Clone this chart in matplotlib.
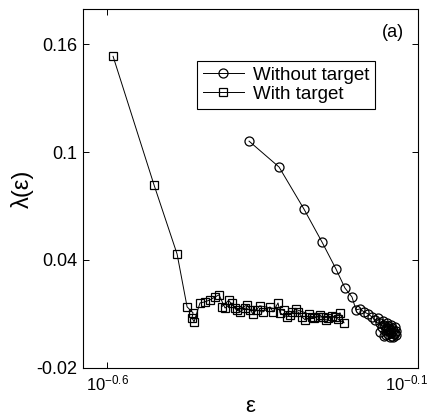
import matplotlib
matplotlib.use("Agg")
import matplotlib.pyplot as plt
import matplotlib.transforms as mtrans

plt.rcParams["font.family"] = ["Liberation Sans", "DejaVu Sans"]
plt.rcParams["mathtext.fontset"] = "custom"
plt.rcParams["mathtext.rm"] = "Liberation Sans"
plt.rcParams["mathtext.it"] = "Liberation Sans"

# ── data ────────────────────────────────────────────────────────────────────
eps_without = [0.4249, 0.4748, 0.5207, 0.5566, 0.5862, 0.6060, 0.6220, 0.6313,
               0.6408, 0.6503, 0.6600, 0.6699, 0.6774, 0.6850, 0.6900, 0.6977,
               0.7029, 0.7081, 0.7134, 0.7187, 0.7240, 0.7267, 0.7321, 0.7294,
               0.7214, 0.7107, 0.7003, 0.6900, 0.7055, 0.7160, 0.7321, 0.7250,
               0.7180, 0.7120, 0.7050, 0.6950, 0.7000, 0.7100, 0.7200, 0.7290]
lam_without = [0.1061, 0.0917, 0.0683, 0.0500, 0.0350, 0.0244, 0.0194, 0.0122,
               0.0128, 0.0111, 0.0100, 0.0083, 0.0067, 0.0078, 0.0050, 0.0061,
               0.0033, 0.0050, 0.0022, 0.0039, 0.0011, -0.0011, 0.0006, 0.0028,
               -0.0022, -0.0011, -0.0022, 0.0000, 0.0011, -0.0028, -0.0017, -0.0030,
               -0.0005, 0.0015, -0.0015, 0.0025, 0.0040, 0.0030, 0.0020, -0.0005]

eps_with = [0.2568, 0.2989, 0.3255, 0.3378, 0.3453, 0.3440, 0.3466, 0.3543,
            0.3609, 0.3676, 0.3745, 0.3802, 0.3887, 0.3990, 0.4034, 0.4109,
            0.4186, 0.4264, 0.4376, 0.4474, 0.4592, 0.4643, 0.4730, 0.4765,
            0.4891, 0.4982, 0.5094, 0.5170, 0.5228, 0.5365, 0.5484, 0.5587,
            0.5691, 0.5842, 0.5951, 0.6040, 0.5900, 0.5780, 0.5650, 0.5520,
            0.5400, 0.5300, 0.5050, 0.4940, 0.4830, 0.4420, 0.4310, 0.4220,
            0.4060, 0.3940, 0.3840]
lam_with = [0.1533, 0.0817, 0.0433, 0.0139, 0.0106, 0.0078, 0.0056, 0.0161,
            0.0167, 0.0178, 0.0194, 0.0206, 0.0133, 0.0161, 0.0133, 0.0111,
            0.0133, 0.0122, 0.0122, 0.0111, 0.0139, 0.0111, 0.0161, 0.0106,
            0.0083, 0.0111, 0.0111, 0.0083, 0.0067, 0.0083, 0.0083, 0.0083,
            0.0078, 0.0083, 0.0106, 0.0050, 0.0072, 0.0090, 0.0065, 0.0095,
            0.0075, 0.0100, 0.0125, 0.0095, 0.0120, 0.0145, 0.0100, 0.0150,
            0.0120, 0.0175, 0.0140]

x_ticks = [10 ** -0.6, 10 ** -0.1]
x_ticklabels = [r"$10^{-0.6}$", r"$10^{-0.1}$"]
y_ticks = [-0.02, 0.04, 0.1, 0.16]
y_ticklabels = ["-0.02", "0.04", "0.1", "0.16"]

# ── figure ──────────────────────────────────────────────────────────────────
fig = plt.figure(figsize=(4.35, 4.18), dpi=100, facecolor="white")
ax = fig.add_axes([0.191, 0.12, 0.77, 0.858])

ax.plot(eps_without, lam_without, "-o", color="black", lw=0.7,
        mfc="none", mec="black", mew=0.9, ms=6.5, label="Without target")
ax.plot(eps_with, lam_with, "-s", color="black", lw=0.7,
        mfc="none", mec="black", mew=0.9, ms=6, label="With target")

ax.set_xscale("log")
ax.set_xlim(10 ** -0.6386, 10 ** -0.1)
ax.set_ylim(-0.02, 0.1795)
ax.set_xticks(x_ticks)
ax.set_xticklabels(x_ticklabels)
ax.minorticks_off()
ax.set_yticks(y_ticks)
ax.set_yticklabels(y_ticklabels)
ax.tick_params(direction="in", top=True, right=True, length=4, width=0.7,
               labelsize=13, pad=4)
ax.tick_params(axis="x", labelsize=12)
for s in ax.spines.values():
    s.set_linewidth(0.8)

# keep the right-hand tick label inside the canvas
lab = ax.get_xticklabels()[1]
lab.set_transform(lab.get_transform()
                  + mtrans.ScaledTranslation(-8 / 72, 0, fig.dpi_scale_trans))

ax.set_xlabel("ε", fontsize=16, labelpad=2)
ax.set_ylabel("λ(ε)", fontsize=17, labelpad=2)

ax.text(0.925, 0.935, "(a)", transform=ax.transAxes, fontsize=13,
        ha="center", va="center")

leg = ax.legend(loc="upper left", bbox_to_anchor=(0.34, 0.855),
                borderaxespad=0, fontsize=13.5, handlelength=2.2,
                handletextpad=0.5, borderpad=0.3, labelspacing=0.1,
                fancybox=False, framealpha=1)
leg.get_frame().set_edgecolor("black")
leg.get_frame().set_linewidth(0.8)

fig.savefig("out.png", dpi=100, facecolor="white")
